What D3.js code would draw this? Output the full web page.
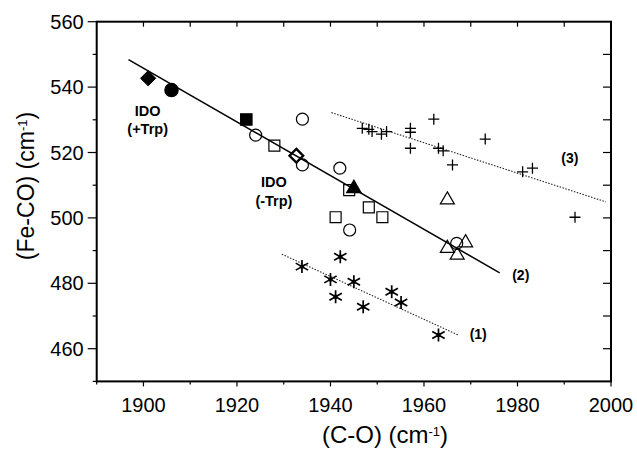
<!DOCTYPE html>
<html>
<head>
<meta charset="utf-8">
<script src="https://cdn.jsdelivr.net/npm/d3@7"></script>
<style>
  body { margin: 0; background: #fff; }
  text { font-family: "Liberation Sans", Arial, sans-serif; }
</style>
</head>
<body>
<div id="chart"></div>
<script>
// [C-O, Fe-CO] pairs
var filledDiamond = [[1901, 542.7]]
var filledCircle = [[1906, 539.1]]
var filledSquare = [[1922, 530.1]]
var filledTriangle = [[1945, 509]]
var openCircle = [[1924, 525.3], [1934, 530.2], [1934, 516.2], [1942, 515.2], [1944.1, 496.3], [1967, 492.2]]
var openSquare = [[1928, 522.1], [1944, 508.5], [1948.2, 503.2], [1941.1, 500.2], [1951.1, 500.2]]
var openDiamond = [[1932.7, 519]]
var openTriangle = [[1965, 505.5], [1965, 490.7], [1967.1, 488.6], [1968.9, 492.4]]
var asterisk = [[1933.9, 485.1], [1942.1, 488.1], [1940, 481.2], [1941.1, 475.9], [1945, 480.5],
                [1947, 472.8], [1953.1, 477.4], [1955.1, 474.1], [1963.1, 464.2]]
var plus = [[1946.8, 527.4], [1948.2, 527.1], [1948.9, 526.4], [1950.9, 525.6], [1952, 526.4],
            [1957.1, 527.4], [1957.1, 526.2], [1957.1, 521.3], [1962.1, 530.2], [1963.1, 521.3],
            [1964.1, 520.5], [1966.1, 516.2], [1973.1, 524.1], [1981.1, 514.1], [1983.2, 515.2],
            [1992.3, 500.2]]

var fit1 = [[1929.6, 488.9], [1967.3, 464.2]]
var fit2 = [[1896.8, 548.4], [1976.2, 483.2]]
var fit3 = [[1940.2, 532.2], [1998.9, 504.9]]

// label text, x, baseline y (data units)
var fitLabels = [["(1)", 1971.6, 463], ["(2)", 1980.7, 481], ["(3)", 1991.2, 516.8]]
var idoLabels = [["IDO", 1900.9, 531.1], ["(+Trp)", 1900.9, 525.8], ["IDO", 1927.9, 509.4], ["(-Trp)", 1927.9, 503.6]]

var xTicks = [1900, 1920, 1940, 1960, 1980, 2000]
var yTicks = [460, 480, 500, 520, 540, 560]

var width = 637, height = 451
var margin = {left: 96.7, right: 26, top: 21.7, bottom: 69.6}

var x = d3.scaleLinear().domain([1890, 2000]).range([margin.left, width - margin.right])
var y = d3.scaleLinear().domain([450, 560]).range([height - margin.bottom, margin.top])

var svg = d3.select("#chart").append("svg")
  .attr("width", width)
  .attr("height", height)

var minorX = d3.range(1890, 2001, 10)
var minorY = d3.range(450, 561, 10)

// bottom axis: outward ticks, long at labels
var gx = svg.append("g")
  .attr("transform", "translate(0," + y(450) + ")")
gx.selectAll("line.t").data(minorX).enter().append("line")
  .attr("x1", function(d) { return x(d) }).attr("x2", function(d) { return x(d) })
  .attr("y1", 0).attr("y2", function(d) { return d % 20 === 0 ? 5 : 3 })
  .attr("stroke", "#000").attr("stroke-width", 1.2)
gx.selectAll("text").data(xTicks).enter().append("text")
  .attr("x", function(d) { return x(d) }).attr("y", 31)
  .attr("text-anchor", "middle").attr("font-size", 20).text(function(d) { return d })

// left axis
var gy = svg.append("g")
  .attr("transform", "translate(" + x(1890) + ",0)")
gy.selectAll("line.t").data(minorY).enter().append("line")
  .attr("y1", function(d) { return y(d) }).attr("y2", function(d) { return y(d) })
  .attr("x1", 0).attr("x2", function(d) { return d % 20 === 0 ? -9 : -4 })
  .attr("stroke", "#000").attr("stroke-width", 1.2)
gy.selectAll("text").data(yTicks).enter().append("text")
  .attr("x", -13).attr("y", function(d) { return y(d) + 7 })
  .attr("text-anchor", "end").attr("font-size", 20).text(function(d) { return d })

// top and right ticks point inward
svg.append("g").selectAll("line").data(minorX.slice(1, -1)).enter().append("line")
  .attr("x1", function(d) { return x(d) }).attr("x2", function(d) { return x(d) })
  .attr("y1", y(560)).attr("y2", y(560) + 5)
  .attr("stroke", "#000").attr("stroke-width", 1.2)
svg.append("g").selectAll("line").data(minorY.slice(1, -1)).enter().append("line")
  .attr("y1", function(d) { return y(d) }).attr("y2", function(d) { return y(d) })
  .attr("x1", x(2000)).attr("x2", x(2000) - 8)
  .attr("stroke", "#000").attr("stroke-width", 1.2)

svg.append("rect")
  .attr("x", x(1890)).attr("y", y(560))
  .attr("width", x(2000) - x(1890)).attr("height", y(450) - y(560))
  .attr("fill", "none").attr("stroke", "#000").attr("stroke-width", 2)

// axis titles
svg.append("text")
  .attr("x", 385).attr("y", 443)
  .attr("text-anchor", "middle").attr("font-size", 24)
  .html('(C-O) (cm<tspan baseline-shift="super" font-size="13">-1</tspan>)')
svg.append("text")
  .attr("transform", "translate(34,186) rotate(-90)")
  .attr("text-anchor", "middle").attr("font-size", 23)
  .html('(Fe-CO) (cm<tspan baseline-shift="super" font-size="13">-1</tspan>)')

// regression lines
var line = d3.line().x(function(d) { return x(d[0]) }).y(function(d) { return y(d[1]) })
svg.append("path").datum(fit2).attr("d", line)
  .attr("fill", "none").attr("stroke", "#000").attr("stroke-width", 1.5)
;[fit1, fit3].forEach(function(f) {
  svg.append("path").datum(f).attr("d", line)
    .attr("fill", "none").attr("stroke", "#222").attr("stroke-width", 1.1)
    .attr("stroke-dasharray", "1.5,1.5")
})

function tr(d) { return "translate(" + x(d[0]) + "," + y(d[1]) + ")" }

function symbols(data, type, size, filled, sw) {
  svg.append("g").selectAll("path").data(data).enter().append("path")
    .attr("transform", tr)
    .attr("d", d3.symbol().type(type).size(size))
    .attr("fill", filled ? "#000" : "none")
    .attr("stroke", "#000").attr("stroke-width", sw || 1.2)
}

function diamond(r) { return "M0," + (-r) + "L" + r + ",0L0," + r + "L" + (-r) + ",0Z" }

symbols(openCircle, d3.symbolCircle, 113, false)
symbols(openSquare, d3.symbolSquare, 120, false)
symbols(openTriangle, d3.symbolTriangle, 85, false)
symbols(filledCircle, d3.symbolCircle, 140, true)
symbols(filledSquare, d3.symbolSquare, 130, true)
symbols(filledTriangle, d3.symbolTriangle, 90, true)

svg.append("g").selectAll("path").data(openDiamond).enter().append("path")
  .attr("transform", tr).attr("d", diamond(6.8))
  .attr("fill", "none").attr("stroke", "#000").attr("stroke-width", 2.4)
svg.append("g").selectAll("path").data(filledDiamond).enter().append("path")
  .attr("transform", tr).attr("d", diamond(7.6))
  .attr("fill", "#000").attr("stroke", "#000").attr("stroke-width", 1)

// asterisks
svg.append("g").selectAll("path").data(asterisk).enter().append("path")
  .attr("transform", tr)
  .attr("d", "M0,-6.5V6.5M-6.2,-3.5L6.2,3.5M-6.2,3.5L6.2,-3.5")
  .attr("stroke", "#000").attr("stroke-width", 1.7)
svg.append("g").selectAll("circle").data(asterisk).enter().append("circle")
  .attr("transform", tr).attr("r", 2.2).attr("fill", "#000")

// plus signs
svg.append("g").selectAll("path").data(plus).enter().append("path")
  .attr("transform", tr)
  .attr("d", "M-5.5,0H5.5M0,-5.5V5.5")
  .attr("stroke", "#000").attr("stroke-width", 1.3)

// labels
svg.selectAll("text.fit").data(fitLabels).enter().append("text")
  .attr("class", "fit")
  .attr("x", function(d) { return x(d[1]) }).attr("y", function(d) { return y(d[2]) })
  .attr("text-anchor", "middle").attr("font-size", 14).attr("font-weight", "bold")
  .text(function(d) { return d[0] })

svg.selectAll("text.ido").data(idoLabels).enter().append("text")
  .attr("class", "ido")
  .attr("x", function(d) { return x(d[1]) }).attr("y", function(d) { return y(d[2]) })
  .attr("text-anchor", "middle").attr("font-size", 14.5).attr("font-weight", "bold")
  .text(function(d) { return d[0] })
</script>
</body>
</html>
